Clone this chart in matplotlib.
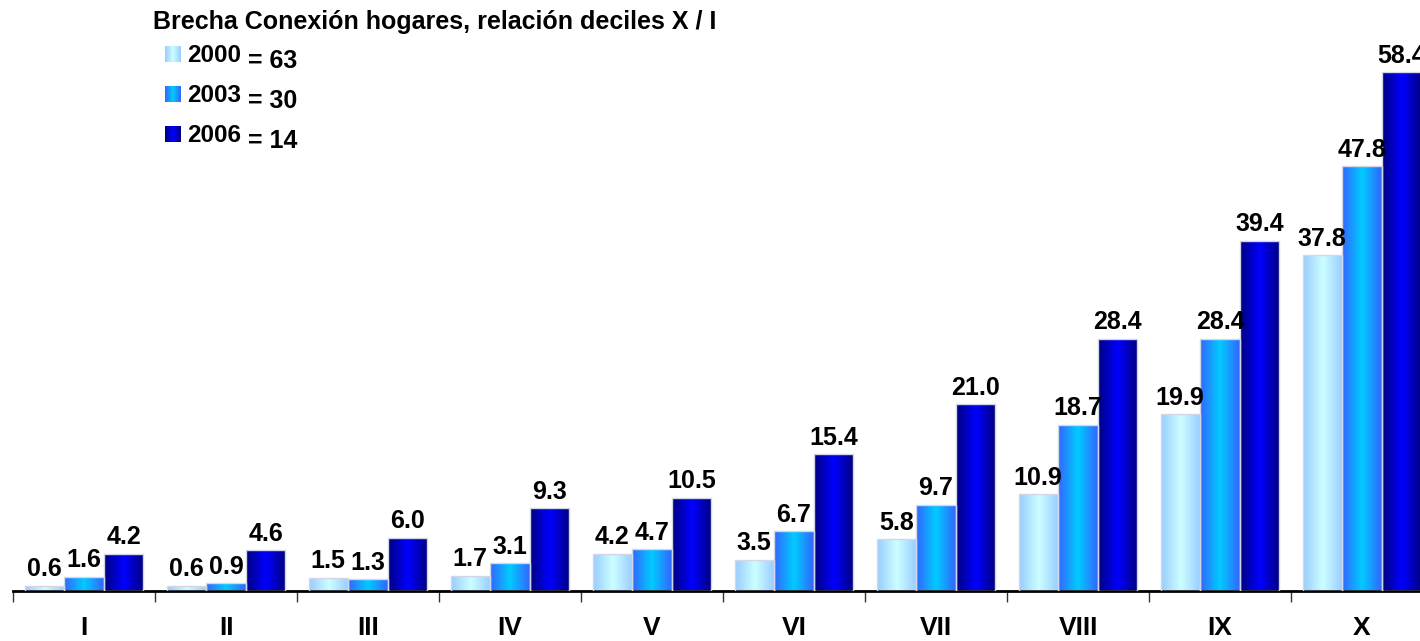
import numpy as np
import matplotlib
matplotlib.use("Agg")
import matplotlib.pyplot as plt
from matplotlib.colors import LinearSegmentedColormap

categories = ["I", "II", "III", "IV", "V", "VI", "VII", "VIII", "IX", "X"]
v2000 = [0.6, 0.6, 1.5, 1.7, 4.2, 3.5, 5.8, 10.9, 19.9, 37.8]
v2003 = [1.6, 0.9, 1.3, 3.1, 4.7, 6.7, 9.7, 18.7, 28.4, 47.8]
v2006 = [4.2, 4.6, 6.0, 9.3, 10.5, 15.4, 21.0, 28.4, 39.4, 58.4]
series_names = ["2000", "2003", "2006"]
gap_labels = ["= 63", "= 30", "= 14"]
title = "Brecha Conexión hogares, relación deciles X / I"

plt.rcParams['font.family'] = ['Liberation Sans', 'DejaVu Sans']

W, H = 1420, 641
fig = plt.figure(figsize=(W / 100, H / 100), dpi=100)
ax = fig.add_axes([13 / W, (H - 591) / H, 1420 / W, 591 / H])

grads = [
    ("#99ccff", "#ccffff"),
    ("#3366ff", "#00ccff"),
    ("#000080", "#0000ff"),
]
cmaps = [LinearSegmentedColormap.from_list("g%d" % i, [a, b, a]) for i, (a, b) in enumerate(grads)]
grad = np.linspace(0, 1, 64).reshape(1, -1)

x = np.arange(len(categories))
width = 0.275
offsets = [-0.28, 0.0, 0.28]
series = [v2000, v2003, v2006]

for s, vals in enumerate(series):
    bars = ax.bar(x + offsets[s], vals, width, facecolor="none", edgecolor="#d0d8e8",
                  linewidth=1.0, zorder=3)
    for b, v in zip(bars, vals):
        x0 = b.get_x()
        im = ax.imshow(grad, cmap=cmaps[s], aspect="auto",
                       extent=(x0, x0 + b.get_width(), 0, v), zorder=2,
                       interpolation="bilinear")
        im.set_clip_path(b)
        ax.text(x0 + b.get_width() / 2, v + 0.5, "%.1f" % v, ha="center", va="bottom",
                fontsize=18, fontweight="bold", color="black", zorder=4)

ax.set_xlim(-0.5, len(categories) - 0.5)
ax.set_ylim(0, 66.5)
for sp in ["top", "right", "left"]:
    ax.spines[sp].set_visible(False)
ax.spines["bottom"].set_linewidth(2)
ax.spines["bottom"].set_color("black")
ax.set_yticks([])
ax.set_xticks(x)
ax.set_xticklabels(categories, fontsize=19, fontweight="bold")
ax.tick_params(axis="x", which="major", length=0, pad=18)
ax.set_xticks(np.arange(-0.5, len(categories) - 0.4, 1.0), minor=True)
ax.tick_params(axis="x", which="minor", length=8, width=1, color="#333333", direction="out")

# title and legend
fig.text(153 / W, 1 - 29 / H, title, fontsize=18, fontweight="bold", ha="left", va="baseline")
legend_y = [54, 94, 134]
for i in range(3):
    yc = legend_y[i]
    lax = fig.add_axes([165 / W, 1 - (yc + 8) / H, 16 / W, 16 / H])
    lax.imshow(grad, cmap=cmaps[i], aspect="auto", interpolation="bilinear")
    lax.axis("off")
    fig.text(187 / W, 1 - (yc + 8) / H, series_names[i], fontsize=17.5, fontweight="bold",
             ha="left", va="baseline")
    fig.text(248 / W, 1 - (yc + 14) / H, gap_labels[i], fontsize=18, fontweight="bold",
             ha="left", va="baseline")

fig.savefig("out.png", dpi=100)
